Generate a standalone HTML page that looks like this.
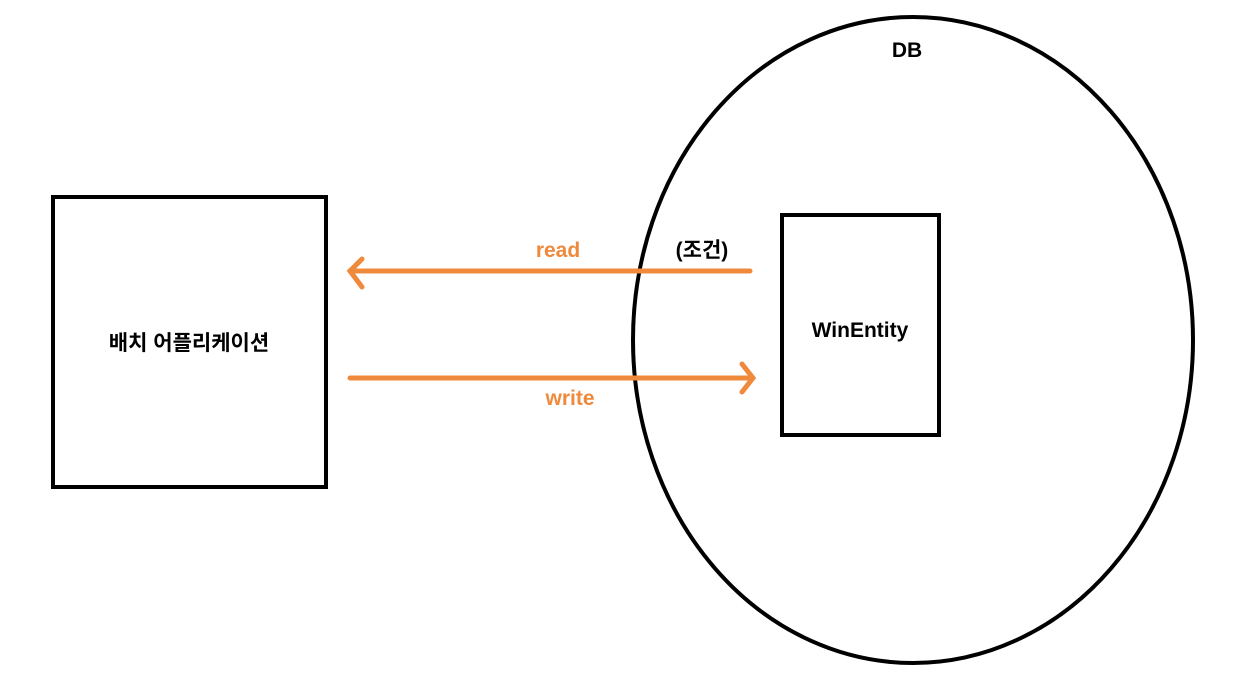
<!DOCTYPE html>
<html><head><meta charset="utf-8"><style>
body{margin:0;background:#fff;width:1248px;height:680px;overflow:hidden}
text{font-family:"Liberation Sans","Noto Sans CJK KR",sans-serif;font-weight:bold;font-size:21px}
</style></head><body>
<svg width="1248" height="680" xmlns="http://www.w3.org/2000/svg">
<ellipse cx="913" cy="340" rx="280" ry="323" fill="none" stroke="#000" stroke-width="4"/>
<rect x="53" y="197" width="273" height="290" fill="none" stroke="#000" stroke-width="4"/>
<rect x="782" y="215" width="157" height="220" fill="none" stroke="#000" stroke-width="4"/>
<g stroke="#ef8a3c" stroke-width="5" stroke-linecap="round" fill="none">
<line x1="350" y1="271" x2="750" y2="271"/>
<polyline points="362,259 350,271 362,287"/>
<line x1="350" y1="378" x2="752" y2="378"/>
<polyline points="742,364 753,378 742,392"/>
</g>
<text x="558" y="257" text-anchor="middle" fill="#ef8a3c">read</text>
<text x="570" y="405" text-anchor="middle" fill="#ef8a3c">write</text>
<text x="702" y="257" text-anchor="middle" fill="#000">(조건)</text>
<text x="907" y="57" text-anchor="middle" fill="#000">DB</text>
<text x="860" y="337" text-anchor="middle" fill="#000">WinEntity</text>
<text x="189" y="350" text-anchor="middle" fill="#000">배치 어플리케이션</text>
</svg>
</body></html>
